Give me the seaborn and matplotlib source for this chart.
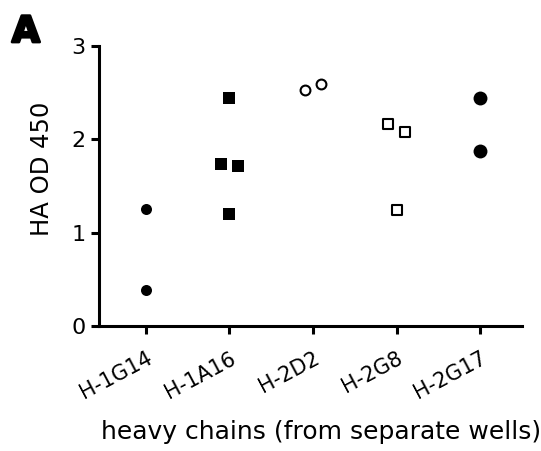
import numpy as np
import matplotlib
matplotlib.use("Agg")
import matplotlib.pyplot as plt
import matplotlib.patheffects as pe
import seaborn as sns

# ---- data ----
categories = ["H-1G14", "H-1A16", "H-2D2", "H-2G8", "H-2G17"]
h1g14 = [1.25, 0.39]
h1a16 = [2.44, 1.74, 1.71, 1.20]
h2d2 = [2.53, 2.59]
h2g8 = [2.165, 2.08, 1.24]
h2g17 = [2.44, 1.87]
yticks = [0, 1, 2, 3]
xlabel = "heavy chains (from separate wells)"
ylabel = "HA OD 450"

sns.set_theme(style="ticks")
plt.rcParams["font.family"] = ["DejaVu Sans"]

fig = plt.figure(figsize=(5.41, 4.51), dpi=100)
ax = fig.add_axes([99 / 541, 1 - 326 / 451, 423 / 541, 280 / 451])


def swarm_x(center, vals, ythresh=0.13, sep=0.2):
    """Simple symmetric beeswarm: cluster close values and spread them."""
    vals = np.asarray(vals, dtype=float)
    xs = np.full(len(vals), float(center))
    used = np.zeros(len(vals), bool)
    for i in range(len(vals)):
        if used[i]:
            continue
        cl = [i]
        for j in range(i + 1, len(vals)):
            if not used[j] and abs(vals[j] - vals[i]) < ythresh:
                cl.append(j)
        for k, idx in enumerate(cl):
            xs[idx] = center + (k - (len(cl) - 1) / 2) * sep
            used[idx] = True
    return xs


groups = [h1g14, h1a16, h2d2, h2g8, h2g17]
styles = [
    dict(marker="o", s=63, color="black", linewidth=0),
    dict(marker="s", s=74, color="black", linewidth=0),
    dict(marker="o", s=50, facecolor="white", edgecolor="black", linewidth=1.5),
    dict(marker="s", s=52, facecolor="white", edgecolor="black", linewidth=1.5),
    dict(marker="o", s=100, color="black", linewidth=0),
]
for i, (vals, st) in enumerate(zip(groups, styles)):
    xs = swarm_x(i, vals)
    sns.scatterplot(x=xs, y=vals, ax=ax, zorder=3, clip_on=False, legend=False, **st)

ax.set_xlim(-0.56, 4.5)
ax.set_ylim(0, 3)
ax.set_xticks(range(len(categories)))
ax.set_xticklabels(categories, rotation=28, ha="right", rotation_mode="anchor", fontsize=15)
ax.set_yticks(yticks)
ax.set_yticklabels([str(t) for t in yticks], fontsize=16)

for side in ["top", "right"]:
    ax.spines[side].set_visible(False)
for side in ["left", "bottom"]:
    ax.spines[side].set_linewidth(2.2)
    ax.spines[side].set_color("black")
ax.tick_params(axis="both", direction="out", length=6, width=2.2, color="black",
               labelcolor="black")
ax.tick_params(axis="y", pad=3.5)
ax.tick_params(axis="x", pad=10)

ax.set_xlabel(xlabel, fontsize=18, color="black")
ax.set_ylabel(ylabel, fontsize=17.5, color="black")
ax.xaxis.set_label_coords(0.525, -0.335)
ax.yaxis.set_label_coords(-0.106, 0.56)

fig.text(0.022, 1 - 42 / 451, "A", fontsize=26, fontweight="bold", va="baseline", ha="left",
         color="black", path_effects=[pe.withStroke(linewidth=2, foreground="black")])

fig.savefig("out.png", dpi=100, facecolor="white")
